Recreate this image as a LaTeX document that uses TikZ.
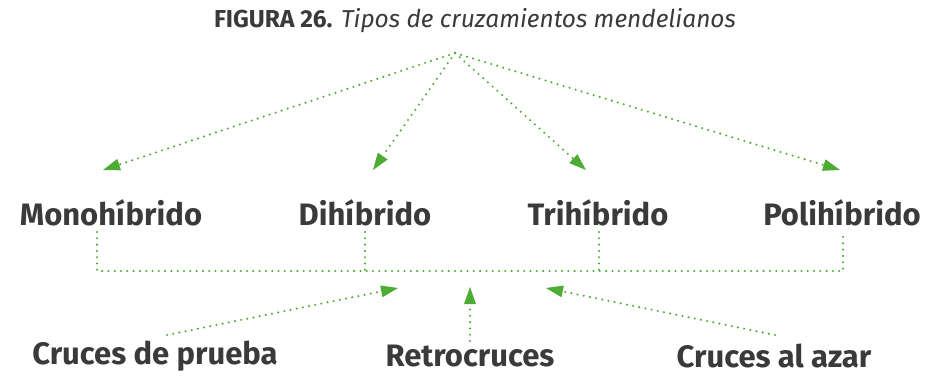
\documentclass[tikz,border=0pt]{standalone}
\usepackage{fontspec}
\setmainfont{Fira Sans}
\usetikzlibrary{arrows.meta}
\definecolor{gr}{RGB}{78,172,52}
\definecolor{tx}{RGB}{58,58,58}
\tikzset{
  lbl/.style={font=\bfseries\fontsize{31}{36}\selectfont, text=tx, inner sep=0pt},
  dotl/.style={draw=gr, line width=2.3pt, line cap=round, dash pattern=on 0pt off 6.3pt},
  arr/.style={dotl, -{Triangle[length=17pt,width=12pt,fill=gr,line width=0pt,sep=0pt]}},
}
\begin{document}
\begin{tikzpicture}[x=1pt,y=-1pt]
\useasboundingbox (0,0) rectangle (928,375);
\node[inner sep=0pt, text=tx, font=\fontsize{24.5}{28}\selectfont] (title) at (475,21) {\textbf{FIGURA 26.} \textit{Tipos de cruzamientos mendelianos}};
\coordinate (apex) at (455,53);
\node[lbl] (mono) at (111,213) {Monohíbrido};
\node[lbl] (di) at (365,213) {Dihíbrido};
\node[lbl] (tri) at (598,213) {Trihíbrido};
\node[lbl] (poli) at (842,213) {Polihíbrido};
\coordinate (m1) at (103,170);
\coordinate (d1) at (373,170);
\coordinate (t1) at (586,170);
\coordinate (p1) at (840,170);
\draw[arr] (apex) -- (m1);
\draw[arr] (apex) -- (d1);
\draw[arr] (apex) -- (t1);
\draw[arr] (apex) -- (p1);
\coordinate (mv) at (97,232);
\coordinate (dv) at (365,232);
\coordinate (tv) at (599,232);
\coordinate (pv) at (843,232);
\draw[dotl] (mv) -- (97,271) -- (843,271) -- (pv);
\draw[dotl] (dv) -- (365,271);
\draw[dotl] (tv) -- (599,271);
\node[lbl] (cp) at (155,356) {Cruces de prueba};
\node[lbl] (rc) at (470,356) {Retrocruces};
\node[lbl] (ca) at (774,356) {Cruces al azar};
\coordinate (cps) at (167,335);
\coordinate (cpt) at (398,288);
\coordinate (rcs) at (470,341);
\coordinate (rct) at (470,287);
\coordinate (cas) at (775,335);
\coordinate (cat) at (546,288);
\draw[arr] (cps) -- (cpt);
\draw[arr] (rcs) -- (rct);
\draw[arr] (cas) -- (cat);
\end{tikzpicture}
\end{document}
